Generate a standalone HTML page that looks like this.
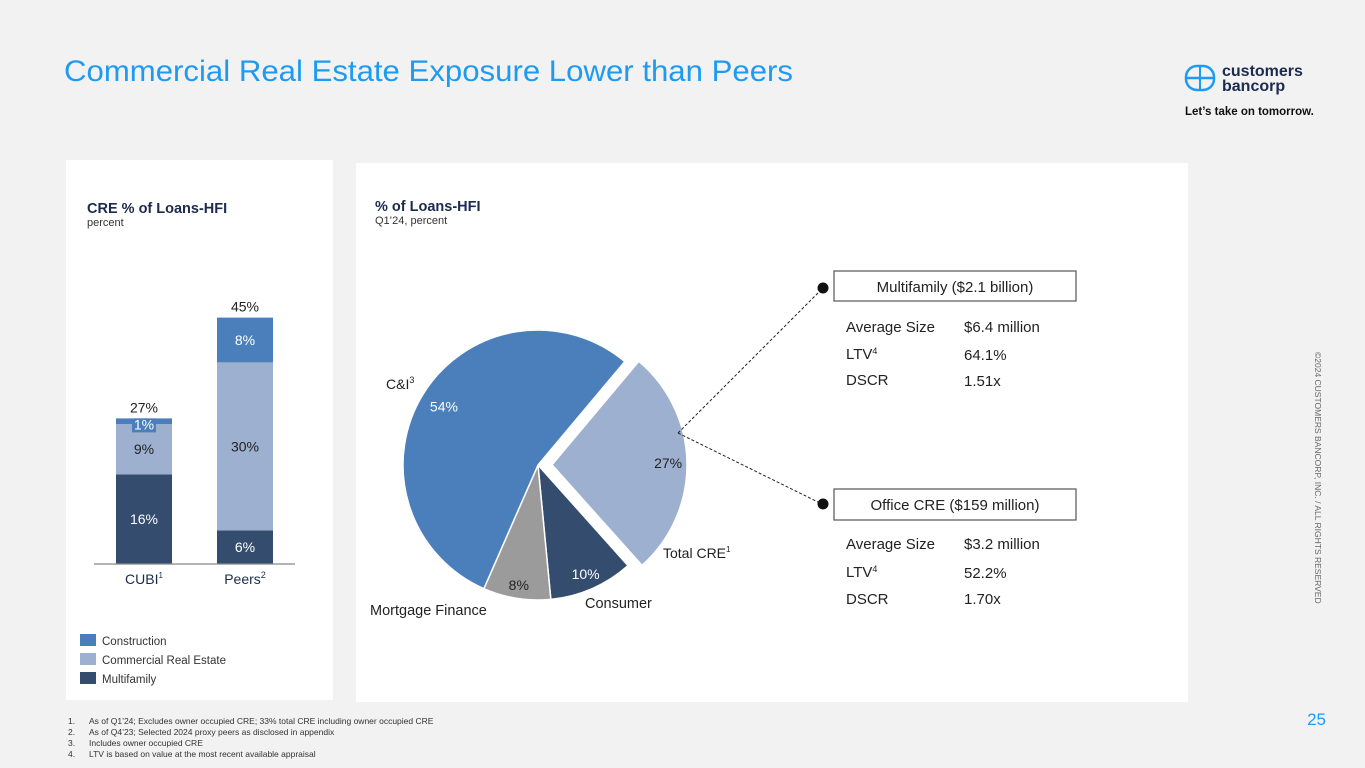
<!DOCTYPE html>
<html><head><meta charset="utf-8">
<style>
html,body{margin:0;padding:0;background:#f2f2f2;}
body{width:1365px;height:768px;overflow:hidden;position:relative;font-family:"Liberation Sans",sans-serif;}
svg{position:absolute;left:0;top:0;}
text{font-family:"Liberation Sans",sans-serif;}
</style></head>
<body>
<svg id="s" width="1365" height="768" viewBox="0 0 1365 768" xmlns="http://www.w3.org/2000/svg">
  <text x="64" y="81" font-size="30" fill="#1e9bf0" textLength="729" lengthAdjust="spacingAndGlyphs">Commercial Real Estate Exposure Lower than Peers</text>
  <g>
    <rect x="1186" y="66" width="28" height="24" rx="11" fill="none" stroke="#1e9bf0" stroke-width="2.5"/>
    <line x1="1187" y1="78" x2="1213" y2="78" stroke="#1e9bf0" stroke-width="2.5"/>
    <line x1="1200" y1="66" x2="1200" y2="90" stroke="#1e9bf0" stroke-width="2"/>
    <text x="1222" y="76" font-size="16" font-weight="bold" fill="#1b2a4e">customers</text>
    <text x="1222" y="91" font-size="16" font-weight="bold" fill="#1b2a4e">bancorp</text>
    <text x="1185" y="115" font-size="11.5" font-weight="bold" fill="#111">Let’s take on tomorrow.</text>
  </g>
  <rect x="66" y="160" width="267" height="540" fill="#fff"/>
  <rect x="356" y="163" width="832" height="539" fill="#fff"/>
  <text x="87" y="213" font-size="14.5" font-weight="bold" fill="#1b2a4e">CRE % of Loans-HFI</text>
  <text x="87" y="226" font-size="11" fill="#333">percent</text>
  <text x="375" y="211" font-size="14.5" font-weight="bold" fill="#1b2a4e">% of Loans-HFI</text>
  <text x="375" y="224" font-size="11" fill="#333">Q1’24, percent</text>
  <g id="bars"></g>
  <line x1="94" y1="564" x2="295" y2="564" stroke="#888" stroke-width="1.2"/>
  <text x="144" y="584" font-size="14" fill="#1b2a4e" text-anchor="middle">CUBI<tspan font-size="8" dy="-6">1</tspan></text>
  <text x="245" y="584" font-size="14" fill="#1b2a4e" text-anchor="middle">Peers<tspan font-size="9" dy="-6">2</tspan></text>
  <g>
    <rect x="80" y="634" width="16" height="12" fill="#4a7fbb"/><text x="102" y="645" font-size="11.5" fill="#333">Construction</text>
    <rect x="80" y="653" width="16" height="12" fill="#9db0cf"/><text x="102" y="664" font-size="11.5" fill="#333">Commercial Real Estate</text>
    <rect x="80" y="672" width="16" height="12" fill="#344c6e"/><text x="102" y="683" font-size="11.5" fill="#333">Multifamily</text>
  </g>
  <g id="pie"></g>
  <text x="386" y="389" font-size="14" fill="#222">C&amp;I<tspan font-size="9" dy="-6">3</tspan></text>
  <text x="663" y="558" font-size="14" fill="#222">Total CRE<tspan font-size="8" dy="-6">1</tspan></text>
  <text x="370" y="615" font-size="14.5" fill="#222">Mortgage Finance</text>
  <text x="585" y="608" font-size="14.5" fill="#222">Consumer</text>
  <line x1="678" y1="433" x2="822" y2="289" stroke="#222" stroke-dasharray="3,2"/>
  <line x1="678" y1="433" x2="822" y2="504" stroke="#222" stroke-dasharray="3,2"/>
  <circle cx="823" cy="288" r="5.5" fill="#111"/>
  <circle cx="823" cy="504" r="5.5" fill="#111"/>
  <rect x="834" y="271" width="242" height="30" fill="#fff" stroke="#555" stroke-width="1.2"/>
  <text x="955" y="292" font-size="15" fill="#222" text-anchor="middle">Multifamily ($2.1 billion)</text>
  <g font-size="15" fill="#222">
    <text x="846" y="332">Average Size</text><text x="964" y="332">$6.4 million</text>
    <text x="846" y="359">LTV<tspan font-size="9" dy="-5">4</tspan></text><text x="964" y="360">64.1%</text>
    <text x="846" y="385">DSCR</text><text x="964" y="386">1.51x</text>
  </g>
  <rect x="834" y="489" width="242" height="31" fill="#fff" stroke="#555" stroke-width="1.2"/>
  <text x="955" y="510" font-size="15" fill="#222" text-anchor="middle">Office CRE ($159 million)</text>
  <g font-size="15" fill="#222">
    <text x="846" y="549">Average Size</text><text x="964" y="549">$3.2 million</text>
    <text x="846" y="577">LTV<tspan font-size="9" dy="-5">4</tspan></text><text x="964" y="578">52.2%</text>
    <text x="846" y="604">DSCR</text><text x="964" y="604">1.70x</text>
  </g>
  <text transform="translate(1315,352) rotate(90)" font-size="8.5" fill="#666">©2024 CUSTOMERS BANCORP, INC. / ALL RIGHTS RESERVED</text>
  <text x="1326" y="725" font-size="17" fill="#1e9bf0" text-anchor="end">25</text>
  <g font-size="8.5" fill="#333">
    <text x="68" y="724">1.</text><text x="89" y="724">As of Q1’24; Excludes owner occupied CRE; 33% total CRE including owner occupied CRE</text>
    <text x="68" y="735">2.</text><text x="89" y="735">As of Q4’23; Selected 2024 proxy peers as disclosed in appendix</text>
    <text x="68" y="746">3.</text><text x="89" y="746">Includes owner occupied CRE</text>
    <text x="68" y="757">4.</text><text x="89" y="757">LTV is based on value at the most recent available appraisal</text>
  </g>
</svg>
<script>
const barCategories = ["CUBI", "Peers"];
const multifamilyValues = [16, 6];
const creValues = [9, 30];
const constructionValues = [1, 8];
const totalLabels = ["27%", "45%"];

const pieCategories = ["Total CRE", "Consumer", "Mortgage Finance", "C&I"];
const pieValues = [27, 10, 8, 54];

const NS = "http://www.w3.org/2000/svg";
function mk(tag, attrs, parent){const e=document.createElementNS(NS,tag);for(const k in attrs)e.setAttribute(k,attrs[k]);parent.appendChild(e);return e;}

// bar chart
const baseY = 564, pxPer = 5.6;
const barX = i => 116 + i*101, barW = 56;
const yScale = v => baseY - v*pxPer;
const bars = document.getElementById('bars');
const series = [
  {vals: multifamilyValues, color:"#344c6e", txt:"#fff", name:"multifamily"},
  {vals: creValues, color:"#9db0cf", txt:"#222", name:"cre"},
  {vals: constructionValues, color:"#4a7fbb", txt:"#fff", name:"construction"}
];
barCategories.forEach((c,i)=>{
  let cum = 0;
  series.forEach(s=>{
    const v = s.vals[i];
    const y1 = yScale(cum+v), y0 = yScale(cum);
    const r = mk('rect',{x:barX(i),y:y1,width:barW,height:y0-y1,fill:s.color},bars);
    
    
    let ty = (y0+y1)/2+5;
    if (y0-y1 < 14) {
      const bx = mk('rect',{x:barX(i)+barW/2-12,y:y1,width:24,height:14,fill:s.color},bars);
      
      
      ty = y1+11;
    }
    const t = mk('text',{x:barX(i)+barW/2,y:ty,'font-size':14,fill:s.txt,'text-anchor':'middle'},bars);
    t.textContent = v + "%";
    
    
    cum += v;
  });
  const tt = mk('text',{x:barX(i)+barW/2,y:yScale(cum)-6,'font-size':14,fill:'#222','text-anchor':'middle'},bars);
  tt.textContent = totalLabels[i];
  
  
});

// pie chart
const pie = document.getElementById('pie');
const cx = 538, cy = 465, R = 135, startDeg = 40;
const colors = ["#9db0cf","#344c6e","#9b9b9b","#4a7fbb"];
const txtColors = ["#222","#fff","#222","#fff"];
const explode = [14,0,0,0];
const labelR = [0.86,0.88,0.9,0.82];
const total = pieValues.reduce((a,b)=>a+b,0);
let acc = 0;
const pt = (deg, r, ox, oy) => {const a=(deg-90)*Math.PI/180;return [ox+r*Math.cos(a), oy+r*Math.sin(a)];};
pieValues.forEach((v,i)=>{
  const a0 = startDeg + acc/total*360, a1 = startDeg + (acc+v)/total*360;
  const mid = (a0+a1)/2;
  const [ox,oy] = pt(mid, explode[i], cx, cy);
  const p0 = pt(a0,R,ox,oy), p1 = pt(a1,R,ox,oy);
  const large = (a1-a0)>180?1:0;
  const p = mk('path',{d:`M${ox},${oy} L${p0[0]},${p0[1]} A${R},${R} 0 ${large} 1 ${p1[0]},${p1[1]} Z`,fill:colors[i],stroke:'#fff','stroke-width':1.5},pie);
  
  
  const lp = pt(mid, R*labelR[i], ox, oy);
  const t = mk('text',{x:lp[0],y:lp[1]+5,'font-size':14,fill:txtColors[i],'text-anchor':'middle'},pie);
  t.textContent = v + "%";
  
  
  acc += v;
});
</script>
</body></html>
